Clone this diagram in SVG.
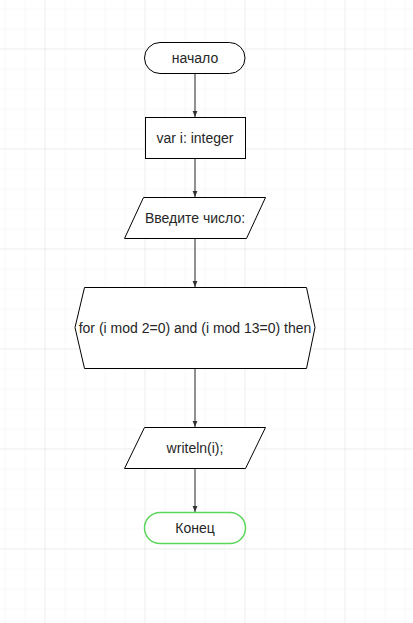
<svg xmlns="http://www.w3.org/2000/svg" width="413" height="623" viewBox="0 0 413 623">
<defs>
<pattern id="minor" x="4" y="8" width="20" height="20" patternUnits="userSpaceOnUse">
<path d="M0 0H20M0 0V20" fill="none" stroke="#f2f2f2" stroke-width="1"/>
</pattern>
<pattern id="major" x="44" y="48" width="100" height="100" patternUnits="userSpaceOnUse">
<path d="M0 0H100M0 0V100" fill="none" stroke="#e4e4e4" stroke-width="1"/>
</pattern>
<marker id="arr" viewBox="0 0 10 10" refX="10" refY="5" markerWidth="6" markerHeight="6" markerUnits="userSpaceOnUse" orient="auto">
<path d="M0 1L10 5L0 9Z" fill="#333"/>
</marker>
</defs>
<style>
.s{fill:#fff;stroke:#000;stroke-width:1}
.t{font-family:"Liberation Sans",Arial,sans-serif;font-size:14px;fill:#262626;text-anchor:middle;dominant-baseline:central}
.c{fill:none;stroke:#555;stroke-width:1.3;marker-end:url(#arr)}
</style>
<rect width="413" height="623" fill="#fff"/>
<rect width="413" height="623" fill="url(#minor)" transform="translate(0.5 0.5)"/>
<rect width="413" height="623" fill="url(#major)" transform="translate(0.5 0.5)"/>
<g id="connectors">
<path class="c" d="M195 73.5V117"/>
<path class="c" d="M195 158.5V197"/>
<path class="c" d="M195 238.5V287"/>
<path class="c" d="M195 368.5V427"/>
<path class="c" d="M195 468.5V512"/>
</g>
<g id="start">
<rect class="s" x="144.5" y="42.5" width="100.5" height="31" rx="15.5"/>
<text class="t" x="195" y="58">начало</text>
</g>
<g id="var">
<rect class="s" x="145.5" y="117.5" width="100" height="41"/>
<text class="t" x="195" y="138">var i: integer</text>
</g>
<g id="input">
<polygon class="s" points="143.5,197.5 265.5,197.5 246.5,238.5 124.5,238.5"/>
<text class="t" x="195" y="218">Введите число:</text>
</g>
<g id="loop">
<polygon class="s" points="84.5,287.5 306.5,287.5 315,327.5 306.5,368.5 84.5,368.5 75,327.5"/>
<text class="t" x="195" y="327.5">for (i mod 2=0) and (i mod 13=0) then</text>
</g>
<g id="output">
<polygon class="s" points="144.5,427.5 265.5,427.5 245.5,468.5 124.5,468.5"/>
<text class="t" x="195" y="448">writeln(i);</text>
</g>
<g id="end">
<rect x="144.5" y="512.5" width="101" height="31" rx="15.5" fill="#fff" stroke="#5ad65a" stroke-width="1.5"/>
<text class="t" x="195" y="528">Конец</text>
</g>
</svg>
